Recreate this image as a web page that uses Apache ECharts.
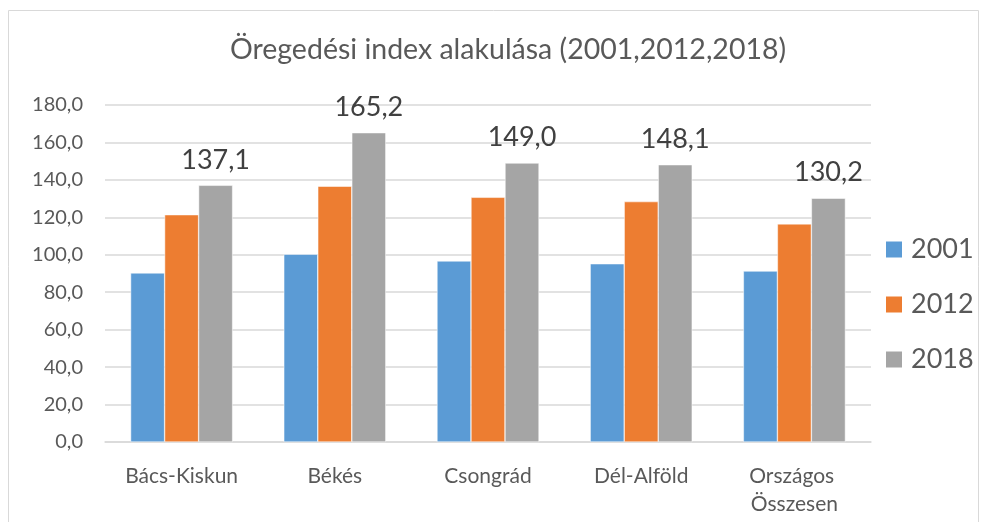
<!DOCTYPE html>
<html>

<head>
    <meta charset="utf-8">
    <title>Öregedési index</title>
    <script src="https://cdn.jsdelivr.net/npm/echarts@6/dist/echarts.min.js"></script>
    <style>
        html, body { margin: 0; padding: 0; background: #fff; }
        #chart { width: 989px; height: 522px; }
    </style>
</head>

<body>
    <div id="chart"></div>

    <script type="text/javascript">
        var regions = ['Bács-Kiskun', 'Békés', 'Csongrád', 'Dél-Alföld', 'Országos Összesen'];
        var years = ['2001', '2012', '2018'];
        var values2001 = [90.3, 100.3, 96.7, 95.2, 91.3];
        var values2012 = [121.4, 136.6, 130.7, 128.4, 116.5];
        var values2018 = [137.1, 165.2, 149.0, 148.1, 130.2];
        var yTicks = { min: 0, max: 180, interval: 20 };

        var font = 'Lato, "Open Sans", sans-serif';
        var colors = ['#5B9BD5', '#ED7D31', '#A5A5A5'];

        function huNum(v) {
            return Number(v).toFixed(1).replace('.', ',');
        }

        function makeSeries(name, data, withLabel) {
            return {
                name: name,
                type: 'bar',
                data: data,
                barGap: '0%',
                barCategoryGap: '33.4%',
                itemStyle: { borderColor: '#fff', borderWidth: 0.5 },
                label: {
                    show: withLabel,
                    position: 'top',
                    distance: 12,
                    fontFamily: font,
                    fontSize: 27,
                    color: '#404040',
                    formatter: function (p) { return huNum(p.value); }
                }
            };
        }

        var chart = echarts.init(document.getElementById('chart'), null, { renderer: 'canvas' });

        chart.setOption({
            animation: false,
            color: colors,
            title: {
                text: 'Öregedési index alakulása (2001,2012,2018)',
                left: 503,
                textAlign: 'center',
                top: 30,
                textStyle: { fontFamily: font, fontSize: 28.5, fontWeight: 'normal', color: '#595959' }
            },
            graphic: [{
                type: 'rect',
                shape: { x: 8.5, y: 10.5, width: 970, height: 520 },
                style: { fill: 'none', stroke: '#d9d9d9', lineWidth: 1 },
                silent: true
            }],
            legend: {
                orient: 'vertical',
                left: 879,
                top: 231,
                itemWidth: 18,
                itemHeight: 18,
                itemGap: 28,
                icon: 'rect',
                data: years,
                textStyle: { fontFamily: font, fontSize: 27, color: '#595959', padding: [0, 0, 0, 3] }
            },
            grid: { left: 105, right: 118, top: 105, bottom: 80, containLabel: false },
            xAxis: {
                type: 'category',
                data: regions,
                axisLine: { lineStyle: { color: '#d9d9d9', width: 1.5 } },
                axisTick: { show: false },
                axisLabel: {
                    interval: 0,
                    margin: 20,
                    fontFamily: font,
                    fontSize: 21,
                    color: '#595959',
                    lineHeight: 28,
                    width: 140,
                    overflow: 'break'
                }
            },
            yAxis: {
                type: 'value',
                min: yTicks.min,
                max: yTicks.max,
                interval: yTicks.interval,
                axisLine: { show: false },
                axisTick: { show: false },
                splitLine: { lineStyle: { color: '#d9d9d9', width: 1.5 } },
                axisLabel: {
                    margin: 22,
                    fontFamily: font,
                    fontSize: 20,
                    color: '#595959',
                    formatter: huNum
                }
            },
            series: [
                makeSeries(years[0], values2001, false),
                makeSeries(years[1], values2012, false),
                makeSeries(years[2], values2018, true)
            ]
        });
    </script>
</body>

</html>
